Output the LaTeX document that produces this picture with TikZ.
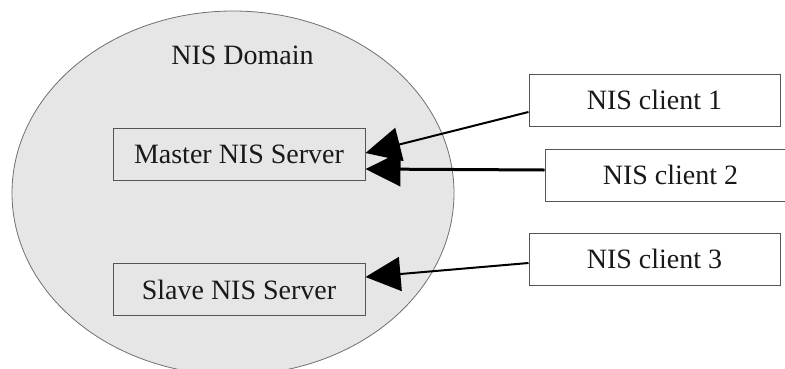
\documentclass[tikz,border=0pt]{standalone}
\usepackage{fontspec}
\setmainfont{Liberation Serif}
\usetikzlibrary{arrows.meta}
\definecolor{domainfill}{HTML}{E6E6E6}
\definecolor{domainline}{HTML}{707070}
\definecolor{boxline}{HTML}{555555}
\begin{document}
\begin{tikzpicture}[x=1pt,y=-1pt,
  box/.style={draw=boxline, line width=1pt, rectangle, minimum width=252pt, minimum height=52pt, inner sep=0pt,
    font=\fontsize{28}{34}\selectfont, text=black!90},
  clientbox/.style={box, fill=white, minimum width=251pt},
  link/.style={-{Triangle[length=35pt,width=34pt]}, line width=2pt, black},
]
\useasboundingbox (0,0) rectangle (785,368);
\clip (0,0) rectangle (785,368);
\fill[white] (0,0) rectangle (785,368);
\draw[domainline, fill=domainfill, line width=0.8pt] (233,193) ellipse [x radius=221pt, y radius=182pt];
\node[font=\fontsize{28}{34}\selectfont, text=black!90] (domain) at (242.5,55) {NIS Domain};
\node[box] (master) at (239,154) {Master NIS Server};
\node[box] (slave) at (239,289.5) {Slave NIS Server};
\node[clientbox] (c1) at (654.5,100) {NIS client 1};
\node[clientbox] (c2) at (670.5,175) {NIS client 2};
\node[clientbox] (c3) at (654.5,259) {NIS client 3};
\draw[link] ([yshift=-12pt]c1.west) -- ([yshift=1pt]master.east);
\draw[link, line width=3pt] ([yshift=5pt]c2.west) -- ([yshift=-15pt]master.east);
\draw[link] ([yshift=-4pt]c3.west) -- ([yshift=12.5pt]slave.east);
\end{tikzpicture}
\end{document}
